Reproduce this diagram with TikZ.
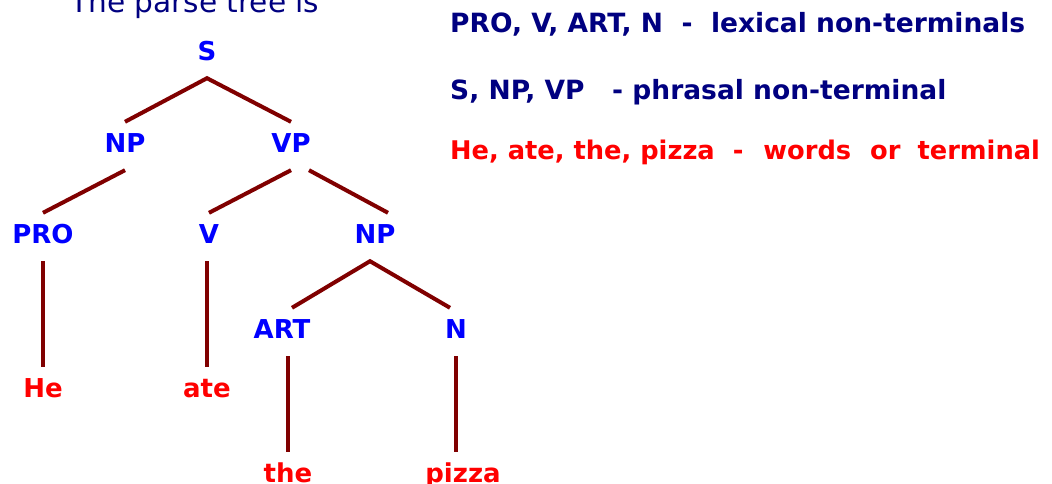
\documentclass[tikz,border=0pt]{standalone}
\usepackage{fontspec}
\setmainfont{DejaVu Sans}
\definecolor{catblue}{RGB}{0,0,255}
\definecolor{wordred}{RGB}{255,0,0}
\definecolor{branchred}{RGB}{128,0,0}
\definecolor{navy}{RGB}{0,0,128}

\begin{document}
\begin{tikzpicture}[x=1pt,y=-1pt,
  cat/.style={font=\bfseries\fontsize{26}{26}\selectfont,text=catblue,inner sep=0pt,
    text height=20pt,text depth=8pt,minimum height=48pt},
  word/.style={cat,text=wordred},
  legend/.style={anchor=base west,inner sep=0pt,font=\bfseries\fontsize{26.5}{26.5}\selectfont,text=navy},
  branch/.style={draw=branchred,line width=4pt}]

\useasboundingbox (0,0) rectangle (1052,483);

\node[anchor=base west,inner sep=0pt,text=navy,font=\fontsize{29.6}{30}\selectfont] (title) at (70,12) {The parse tree is};

% tree
\node[cat]  (S)     at (207,54)  {S};
\node[cat]  (NP)    at (125,146) {NP};
\node[cat]  (VP)    at (291,146) {VP};
\node[cat]  (PRO)   at (43,237)  {PRO};
\node[cat]  (V)     at (209,237) {V};
\node[cat]  (NP2)   at (375,237) {NP};
\node[cat]  (ART)   at (282,332) {ART};
\node[cat]  (N)     at (456,332) {N};
\node[word] (He)    at (43,391)  {He};
\node[word] (ate)   at (207,391) {ate};
\node[word] (the)   at (288,476) {the};
\node[word] (pizza) at (463,476) {pizza};

\draw[branch] (NP.north) -- (S.south) -- (VP.north);
\draw[branch] (NP.south) -- (PRO.north);
\draw[branch] (VP.south) -- (V.north);
\draw[branch] ([xshift=18pt]VP.south) -- ([xshift=13pt]NP2.north);
\draw[branch] ([xshift=10pt]ART.north) -- ([xshift=-5pt]NP2.south) -- ([xshift=-6pt]N.north);
\draw[branch] (PRO.south) -- (He.north);
\draw[branch] (ate.north |- V.south) -- (ate.north);
\draw[branch] (the.north |- ART.south) -- (the.north);
\draw[branch] (N.south) -- (N.south |- pizza.north);

% legend
\node[legend] (lexical)  at (450,32)  {PRO, V, ART, N~~-~~lexical non-terminals};
\node[legend] (phrasal)  at (450,99)  {S, NP, VP~~~- phrasal non-terminal};
\node[legend,text=wordred,font=\bfseries\fontsize{25.7}{25.7}\selectfont] (terminal) at (450,159)
  {He, ate, the, pizza\hspace{18pt}-\hspace{20pt}words\hspace{19pt}or\hspace{17pt}terminal};

\end{tikzpicture}
\end{document}
